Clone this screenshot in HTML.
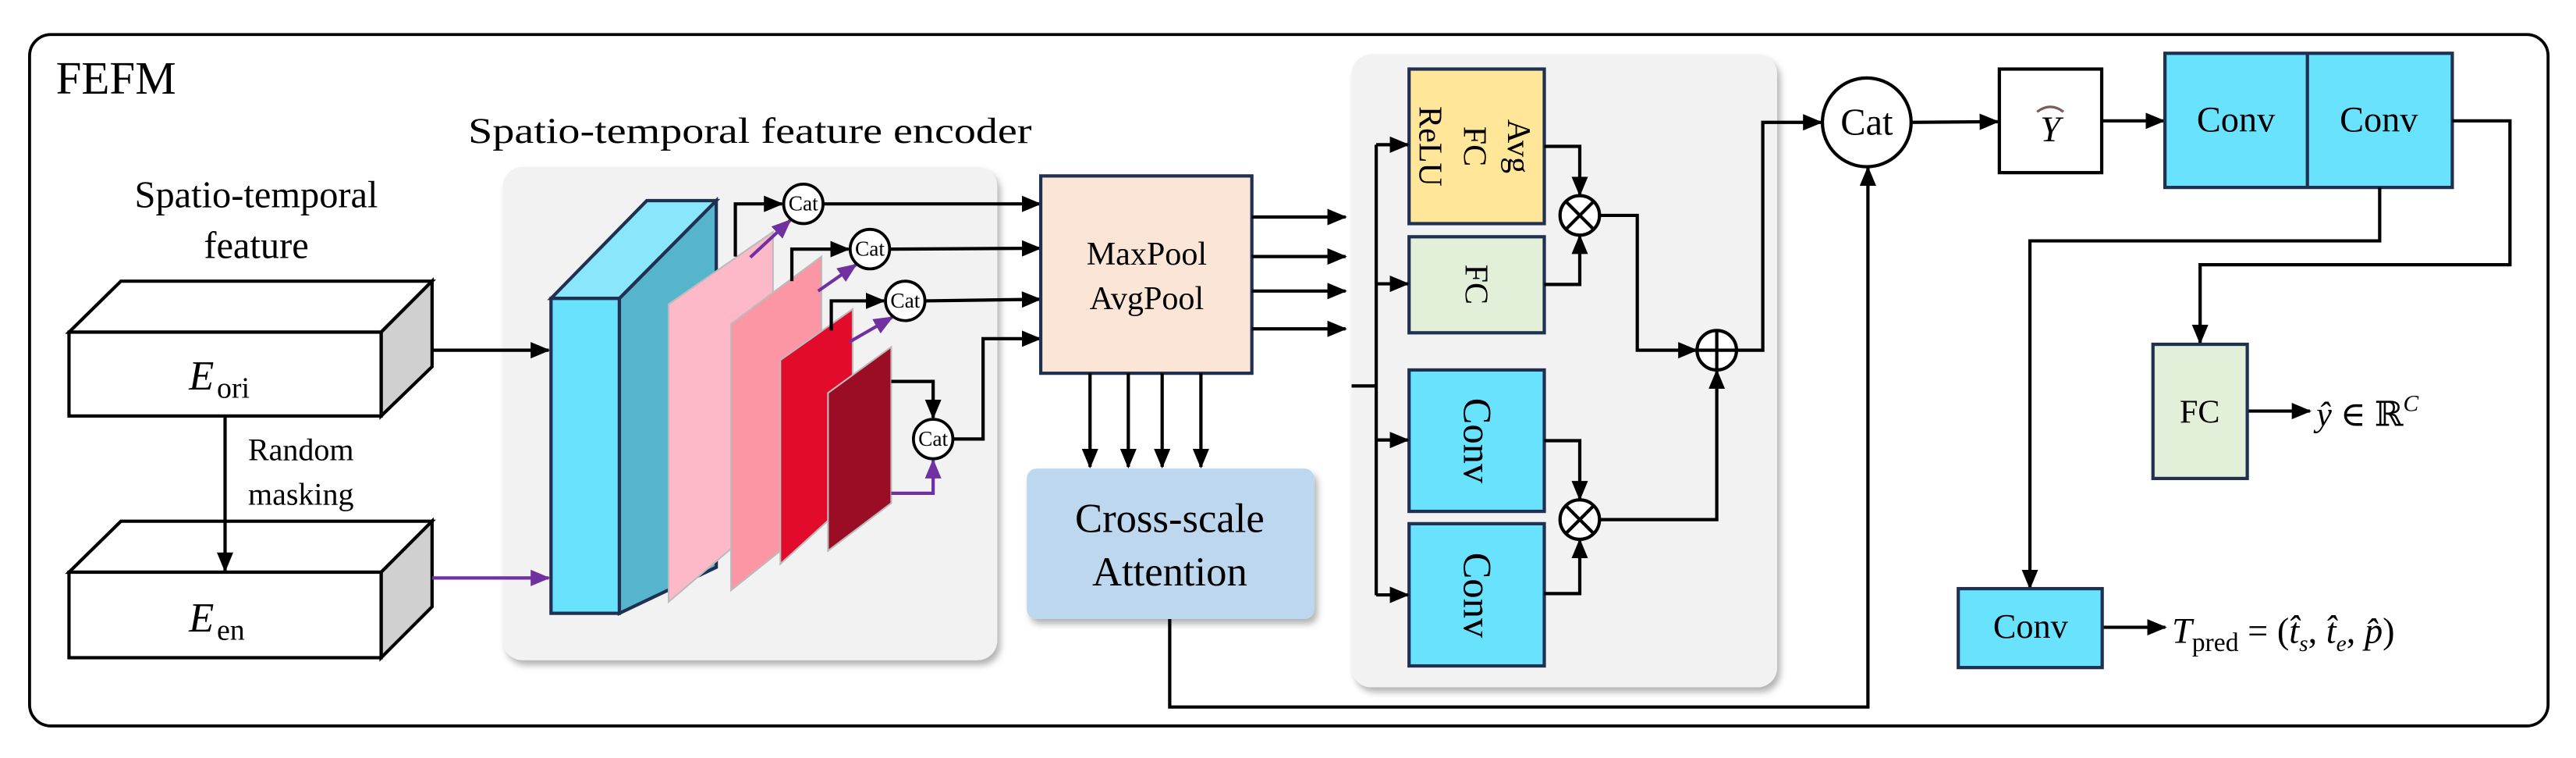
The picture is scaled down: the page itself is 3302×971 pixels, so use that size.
<!DOCTYPE html>
<html><head><meta charset="utf-8"><style>
html,body{margin:0;padding:0;background:#fff;}
svg{display:block;}
svg text, svg tspan{font-family:"Liberation Serif","DejaVu Serif",serif !important;fill:#000;}
</style></head><body>
<svg width="3302" height="971" viewBox="0 0 1568 461" preserveAspectRatio="none" xmlns="http://www.w3.org/2000/svg" font-family="Liberation Serif, serif">
<defs>
<marker id="a" markerUnits="userSpaceOnUse" markerWidth="12" markerHeight="10" refX="11" refY="5" orient="auto"><path d="M0,0 L12,5 L0,10 z" fill="#000"/></marker>
<marker id="p" markerUnits="userSpaceOnUse" markerWidth="12" markerHeight="10" refX="11" refY="5" orient="auto"><path d="M0,0 L12,5 L0,10 z" fill="#7030a0"/></marker>
<filter id="sh" x="-5%" y="-5%" width="115%" height="115%"><feDropShadow dx="2" dy="3" stdDeviation="2" flood-color="#000" flood-opacity="0.3"/></filter>
</defs>
<rect x="18" y="21" width="1533" height="420.5" rx="13" fill="#fff" stroke="#000" stroke-width="1.8"/>
<text x="34" y="57" font-size="28">FEFM</text>
<text x="285" y="87" font-size="22" textLength="343" lengthAdjust="spacingAndGlyphs">Spatio-temporal feature encoder</text>
<text x="156" y="126" font-size="23" text-anchor="middle">Spatio-temporal</text>
<text x="156" y="157" font-size="23" text-anchor="middle">feature</text>

<!-- E boxes -->
<g stroke="#000" stroke-width="2">
<polygon points="42,202 232,202 263,171 73.6,171" fill="#fff"/>
<polygon points="232,202 263,171 263,223 232,253" fill="#d0d0d0"/>
<rect x="42" y="202" width="190" height="51" fill="#fff"/>
<polygon points="42,348 232,348 263,317 73.6,317" fill="#fff"/>
<polygon points="232,348 263,317 263,369 232,400" fill="#d0d0d0"/>
<rect x="42" y="348" width="190" height="52" fill="#fff"/>
</g>
<text x="115" y="237" font-size="25" font-style="italic">E</text><text x="132" y="242" font-size="18">ori</text>
<text x="115" y="384" font-size="25" font-style="italic">E</text><text x="132" y="389" font-size="18">en</text>
<line x1="137" y1="253" x2="137" y2="347" stroke="#000" stroke-width="2" marker-end="url(#a)"/>
<text x="151" y="280" font-size="19">Random</text>
<text x="151" y="307" font-size="19">masking</text>

<!-- encoder panel -->
<rect x="306" y="101.5" width="301" height="300" rx="12" fill="#f2f2f2" filter="url(#sh)"/>
<line x1="263" y1="213" x2="334" y2="213" stroke="#000" stroke-width="2" marker-end="url(#a)"/>
<line x1="263" y1="351.5" x2="334" y2="351.5" stroke="#7030a0" stroke-width="2" marker-end="url(#p)"/>
<g stroke="#1f3050" stroke-width="2">
<polygon points="377,181.5 436,122 436,345 377,373" fill="#56b4cc"/>
<polygon points="335.4,181.5 393.7,122 436,122 377,181.5" fill="#8ae6fa"/>
<rect x="335.4" y="181.5" width="41.6" height="191.5" fill="#69e2fe"/>
</g>
<g stroke="#bbb" stroke-width="1">
<polygon points="407,185 470.5,141 470.5,312 407,366" fill="#fdb9c8"/>
<polygon points="445,197 500,156 500,315 445,359" fill="#fc95a4"/>
<polygon points="475,219 519,188 519,303 475,343" fill="#e30b2c"/>
<polygon points="504,239 542.5,211 542.5,306 504,335" fill="#9b0d24"/>
</g>
<g fill="none" stroke="#000" stroke-width="2">
<polyline points="447.6,156 447.6,124 476,124" marker-end="url(#a)"/>
<polyline points="482,171 482,151.5 516.5,151.5" marker-end="url(#a)"/>
<polyline points="506,201 506,183 538,183" marker-end="url(#a)"/>
<polyline points="542.5,232 568,232 568,254" marker-end="url(#a)"/>
<polyline points="501,124 633,124" marker-end="url(#a)"/>
<polyline points="541.5,151.5 633,151" marker-end="url(#a)"/>
<polyline points="563,183 633,182" marker-end="url(#a)"/>
<polyline points="580,267 598.4,267 598.4,206 633,206" marker-end="url(#a)"/>
</g>
<g fill="none" stroke="#7030a0" stroke-width="2">
<line x1="456.7" y1="156.5" x2="481" y2="134" marker-end="url(#p)"/>
<line x1="498" y1="177" x2="521" y2="161" marker-end="url(#p)"/>
<line x1="517" y1="208" x2="543" y2="193" marker-end="url(#p)"/>
<polyline points="542.5,300 568,300 568,280" marker-end="url(#p)"/>
</g>
<g fill="#fff" stroke="#000" stroke-width="1.8">
<circle cx="489" cy="124" r="12"/><circle cx="529.5" cy="151.5" r="12"/><circle cx="551" cy="183" r="12"/><circle cx="568" cy="267" r="12"/>
</g>
<g font-size="13" text-anchor="middle">
<text x="489" y="128">Cat</text><text x="529.5" y="155.5">Cat</text><text x="551" y="187">Cat</text><text x="568" y="271">Cat</text>
</g>

<!-- MaxPool -->
<rect x="633.5" y="107" width="128.5" height="120" fill="#fbe5d6" stroke="#1f3050" stroke-width="2"/>
<text x="698" y="161" font-size="20" text-anchor="middle">MaxPool</text>
<text x="698" y="188" font-size="20" text-anchor="middle">AvgPool</text>
<g stroke="#000" stroke-width="2" marker-end="url(#a)">
<line x1="762" y1="132" x2="819" y2="132"/><line x1="762" y1="156" x2="819" y2="156"/>
<line x1="762" y1="177" x2="819" y2="177"/><line x1="762" y1="200" x2="819" y2="200"/>
<line x1="663.5" y1="227" x2="663.5" y2="284"/><line x1="686.8" y1="227" x2="686.8" y2="284"/>
<line x1="707.4" y1="227" x2="707.4" y2="284"/><line x1="731" y1="227" x2="731" y2="284"/>
</g>
<rect x="625" y="285" width="175" height="91.5" rx="6" fill="#bdd7ee" filter="url(#sh)"/>
<text x="712" y="323.5" font-size="25" text-anchor="middle">Cross-scale</text>
<text x="712" y="356" font-size="25" text-anchor="middle">Attention</text>

<!-- right panel -->
<rect x="822.7" y="33" width="259" height="385" rx="12" fill="#f2f2f2" filter="url(#sh)"/>
<g stroke="#1f3050" stroke-width="2">
<rect x="857.7" y="42" width="82.3" height="94" fill="#ffe699"/>
<rect x="857.7" y="144" width="82.3" height="58.4" fill="#e2f0d9"/>
<rect x="857.7" y="225" width="82.3" height="86" fill="#69e2fe"/>
<rect x="857.7" y="318.5" width="82.3" height="86.5" fill="#69e2fe"/>
</g>
<g font-size="20" text-anchor="middle">
<text transform="translate(918,89) rotate(90)">Avg</text>
<text transform="translate(891,89) rotate(90)">FC</text>
<text transform="translate(864,89) rotate(90)">ReLU</text>
<text transform="translate(892,173) rotate(90)">FC</text>
</g>
<g font-size="24" text-anchor="middle">
<text transform="translate(891,268) rotate(90)">Conv</text>
<text transform="translate(891,362) rotate(90)">Conv</text>
</g>
<g fill="none" stroke="#000" stroke-width="2">
<polyline points="822.7,234.7 837.7,234.7"/>
<line x1="837.7" y1="88" x2="837.7" y2="362"/>
<line x1="837.7" y1="88" x2="857" y2="88" marker-end="url(#a)"/>
<line x1="837.7" y1="172.6" x2="857" y2="172.6" marker-end="url(#a)"/>
<line x1="837.7" y1="267.6" x2="857" y2="267.6" marker-end="url(#a)"/>
<line x1="837.7" y1="361.8" x2="857" y2="361.8" marker-end="url(#a)"/>
<polyline points="940,89 961.6,89 961.6,118.5" marker-end="url(#a)"/>
<polyline points="940,173 961.6,173 961.6,143.5" marker-end="url(#a)"/>
<polyline points="940,268 961.6,268 961.6,303.5" marker-end="url(#a)"/>
<polyline points="940,361 961.6,361 961.6,328.5" marker-end="url(#a)"/>
<polyline points="974,131 996.6,131 996.6,213 1032.5,213" marker-end="url(#a)"/>
<polyline points="974,316 1045,316 1045,225.5" marker-end="url(#a)"/>
<polyline points="1057,213 1073,213 1073,74.4 1108.5,74.4" marker-end="url(#a)"/>
<polyline points="712,376.5 712,430 1137,430 1137,102" marker-end="url(#a)"/>
</g>
<g fill="#fff" stroke="#000" stroke-width="2">
<circle cx="961.6" cy="131" r="12"/><circle cx="961.6" cy="316" r="12"/><circle cx="1045" cy="213" r="12"/>
</g>
<g stroke="#000" stroke-width="2">
<path d="M953.1,122.5 L970.1,139.5 M970.1,122.5 L953.1,139.5"/>
<path d="M953.1,307.5 L970.1,324.5 M970.1,307.5 L953.1,324.5"/>
<path d="M1033,213 H1057 M1045,201 V225"/>
</g>

<!-- right section -->
<circle cx="1136.3" cy="74.4" r="27" fill="#fff" stroke="#000" stroke-width="2"/>
<text x="1136.3" y="82" font-size="23" text-anchor="middle">Cat</text>
<line x1="1163.3" y1="74.4" x2="1216" y2="74" stroke="#000" stroke-width="2" marker-end="url(#a)"/>
<rect x="1217" y="42" width="62.3" height="63" fill="#fff" stroke="#000" stroke-width="2"/>
<text x="1248" y="86" font-size="22" font-style="italic" text-anchor="middle">Y</text>
<path d="M1240,68 Q1248,62 1256,68" fill="none" stroke="#7a5a5a" stroke-width="1.5"/>
<line x1="1279.3" y1="73.5" x2="1317" y2="73.5" stroke="#000" stroke-width="2" marker-end="url(#a)"/>
<rect x="1317.8" y="32.4" width="174.9" height="81.6" fill="#69e2fe" stroke="#1f3050" stroke-width="2"/>
<line x1="1404.5" y1="32.4" x2="1404.5" y2="114" stroke="#1f3050" stroke-width="2"/>
<text x="1361" y="80" font-size="22" text-anchor="middle">Conv</text>
<text x="1448" y="80" font-size="22" text-anchor="middle">Conv</text>
<g fill="none" stroke="#000" stroke-width="2">
<polyline points="1492.7,73.5 1527.8,73.5 1527.8,161 1339.2,161 1339.2,208.5" marker-end="url(#a)"/>
<polyline points="1448.5,114 1448.5,146.5 1235.6,146.5 1235.6,357.5" marker-end="url(#a)"/>
<line x1="1368" y1="250" x2="1406" y2="250" marker-end="url(#a)"/>
<line x1="1279.6" y1="381.5" x2="1318" y2="381.5" marker-end="url(#a)"/>
</g>
<rect x="1310.5" y="209.4" width="57.4" height="81.6" fill="#e2f0d9" stroke="#1f3050" stroke-width="2"/>
<text x="1339" y="257" font-size="20" text-anchor="middle">FC</text>
<text x="1410" y="259" font-size="21"><tspan font-style="italic">ŷ</tspan> ∈ ℝ<tspan font-size="14" dy="-9" font-style="italic">C</tspan></text>
<rect x="1192" y="358" width="87.6" height="48" fill="#69e2fe" stroke="#1f3050" stroke-width="2"/>
<text x="1236" y="388" font-size="21" text-anchor="middle">Conv</text>
<text x="1322" y="391" font-size="22"><tspan font-style="italic">T</tspan><tspan font-size="16" dy="5">pred</tspan><tspan dy="-5"> = (</tspan><tspan font-style="italic">t̂</tspan><tspan font-size="14" dy="5" font-style="italic">s</tspan><tspan dy="-5">, </tspan><tspan font-style="italic">t̂</tspan><tspan font-size="14" dy="5" font-style="italic">e</tspan><tspan dy="-5">, </tspan><tspan font-style="italic">p̂</tspan>)</text>
</svg>
</body></html>
